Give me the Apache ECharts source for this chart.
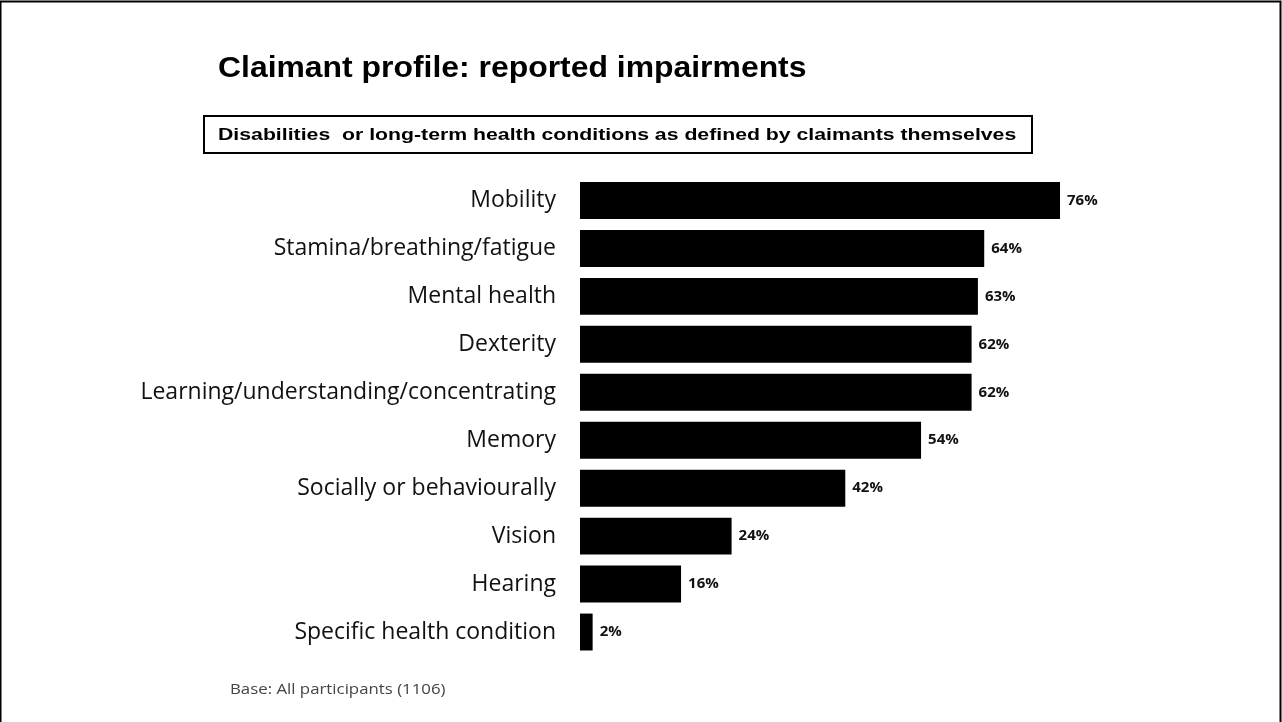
<!DOCTYPE html>
<html>
<head>
<meta charset="utf-8">
<script src="https://cdn.jsdelivr.net/npm/echarts@6/dist/echarts.min.js"></script>
<style>
html,body{margin:0;padding:0;background:#fff;}
#c{width:1282px;height:722px;}
</style>
</head>
<body>
<div id="c"></div>
<script>
const categories = ["Mobility","Stamina/breathing/fatigue","Mental health","Dexterity","Learning/understanding/concentrating","Memory","Socially or behaviourally","Vision","Hearing","Specific health condition"];
const values = [76,64,63,62,62,54,42,24,16,2];
const titleText = "Claimant profile: reported impairments";
const subtitleText = "Disabilities  or long-term health conditions as defined by claimants themselves";
const footnoteText = "Base: All participants (1106)";

const chart = echarts.init(document.getElementById('c'));
chart.setOption({
  animation:false,
  backgroundColor:'#fff',
  graphic:[
    {type:'rect',shape:{x:0.5,y:1.5,width:1280,height:722},style:{fill:'none',stroke:'#000',lineWidth:2},silent:true},
    {type:'text',x:218,y:68.5,scaleX:1.10,style:{text:titleText,fontFamily:'Liberation Sans, Arial, sans-serif',fontWeight:'bold',fontSize:29,fill:'#000',verticalAlign:'middle'}},
    {type:'rect',shape:{x:204,y:116,width:828,height:37},style:{fill:'#fff',stroke:'#000',lineWidth:2}},
    {type:'text',x:218,y:135,scaleX:1.25,style:{text:subtitleText,fontFamily:'Liberation Sans, Arial, sans-serif',fontWeight:'bold',fontSize:17,fill:'#000',verticalAlign:'middle'}},
    {type:'text',x:230,y:690,scaleX:1.12,style:{text:footnoteText,fontFamily:'Open Sans, sans-serif',fontSize:15,fill:'#444',verticalAlign:'middle'}}
  ],
  grid:{left:580,top:176.5,width:631.6,height:479.5,containLabel:false},
  xAxis:{type:'value',min:0,max:100,show:false},
  yAxis:{
    type:'category',data:categories,inverse:true,
    axisLine:{show:false},axisTick:{show:false},splitLine:{show:false},
    axisLabel:{margin:24,fontFamily:'Open Sans, sans-serif',fontSize:23,color:'#111'}
  },
  series:[{
    type:'bar',data:values,barCategoryGap:'23%',
    itemStyle:{color:'#000'},
    label:{show:true,position:'right',distance:7,formatter:'{c}%',fontFamily:'Open Sans, sans-serif',fontWeight:'bold',fontSize:15,color:'#111'}
  }]
});
</script>
</body>
</html>
